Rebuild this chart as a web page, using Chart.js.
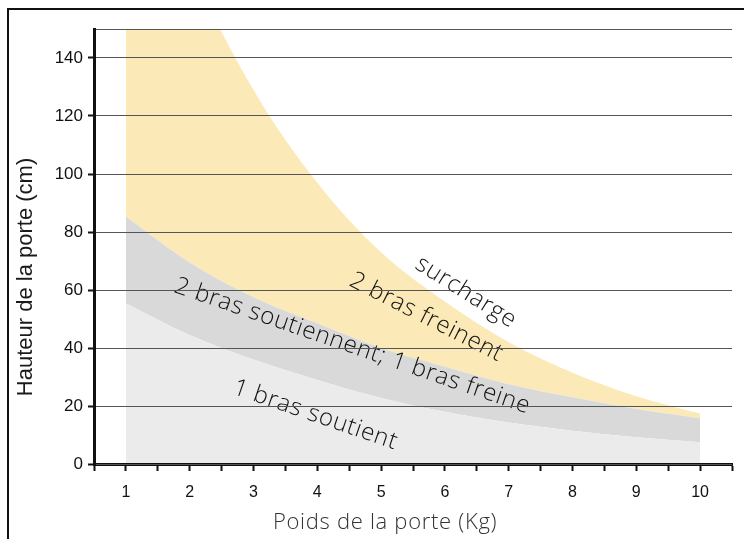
<!DOCTYPE html>
<html>
<head>
<meta charset="utf-8">
<script src="https://cdn.jsdelivr.net/npm/chart.js@4.4.1/dist/chart.umd.min.js"></script>
<style>
  html, body { margin: 0; padding: 0; background: #fff; overflow: hidden; }
  #wrap { position: relative; width: 744px; height: 539px; }
  #frame { position: absolute; left: 7px; top: 8px; width: 900px; height: 700px; border: 2px solid #111; }
  canvas { position: absolute; left: 0; top: 0; }
</style>
</head>
<body>
<div id="wrap">
  <div id="frame"></div>
  <canvas id="myChart" width="744" height="539"></canvas>
</div>
<script>
// poids de la porte (kg)
const weights = [1, 2, 3, 4, 5, 6, 7, 8, 9, 10];
// hauteur limite (cm) pour chaque zone
const soutient = [55.4, 44.5, 36, 29, 22.8, 18, 14.3, 11.5, 9.2, 7.5];
const freine = [85.3, 69.5, 57.5, 48.5, 40, 33.5, 27.5, 23, 19, 15.8];
const surcharge = [229, 172, 129, 97, 73, 56, 42, 31.5, 23.4, 17.4];

const zoneColors = ['#ebebeb', '#d9d9d9', '#fce9b8'];

const notes = [
  { text: 'surcharge', x: 6.33, y: 59.2, angle: 32 },
  { text: '2 bras freinent', x: 5.71, y: 50.6, angle: 27 },
  { text: '2 bras soutiennent; 1 bras freine', x: 4.55, y: 40.6, angle: 19 },
  { text: '1 bras soutient', x: 3.97, y: 16.9, angle: 19 }
];

const toPoints = values => weights.map((w, i) => ({ x: w, y: values[i] }));

const notesPlugin = {
  id: 'notes',
  afterDatasetsDraw(chart) {
    const { ctx, scales } = chart;
    ctx.save();
    ctx.fillStyle = '#111';
    ctx.font = '300 24px "Open Sans"';
    ctx.letterSpacing = '0.7px';
    ctx.textAlign = 'center';
    ctx.textBaseline = 'middle';
    notes.forEach(n => {
      ctx.save();
      ctx.translate(scales.x.getPixelForValue(n.x), scales.y.getPixelForValue(n.y));
      ctx.rotate(n.angle * Math.PI / 180);
      ctx.fillText(n.text, 0, 0);
      ctx.restore();
    });
    ctx.restore();
  },
  afterDraw(chart) {
    const { ctx, scales } = chart;
    ctx.save();
    // titre de l'axe x, centré sous la graduation 5
    ctx.fillStyle = '#333';
    ctx.font = '300 22px "Open Sans"';
    ctx.letterSpacing = '0.7px';
    ctx.textAlign = 'center';
    ctx.textBaseline = 'middle';
    ctx.fillText('Poids de la porte (Kg)', scales.x.getPixelForValue(5) + 4, 523);
    // titre de l'axe y
    ctx.letterSpacing = '0px';
    ctx.fillStyle = '#1a1a1a';
    ctx.font = '22px "Liberation Sans", Arial';
    ctx.translate(26, 277);
    ctx.rotate(-Math.PI / 2);
    ctx.fillText('Hauteur de la porte (cm)', 0, 0);
    ctx.restore();
  }
};

const ctx = document.getElementById('myChart');
new Chart(ctx, {
  type: 'line',
  data: {
    datasets: [
      { data: toPoints(soutient), fill: 'origin', backgroundColor: zoneColors[0] },
      { data: toPoints(freine), fill: '-1', backgroundColor: zoneColors[1] },
      { data: toPoints(surcharge), fill: '-1', backgroundColor: zoneColors[2] }
    ]
  },
  options: {
    responsive: false,
    animation: false,
    events: [],
    layout: { padding: { top: 29, right: 3, left: 0, bottom: 0 } },
    elements: {
      line: { borderWidth: 0, cubicInterpolationMode: 'monotone' },
      point: { radius: 0 }
    },
    plugins: {
      legend: { display: false },
      tooltip: { enabled: false }
    },
    scales: {
      x: {
        type: 'linear',
        min: 0.5,
        max: 10.5,
        afterFit: scale => { scale.height = 75; },
        ticks: {
          stepSize: 0.5,
          autoSkip: false,
          maxRotation: 0,
          padding: 12,
          color: '#111',
          font: { family: 'Liberation Sans, Arial', size: 16 },
          callback: v => Number.isInteger(v) ? v : ''
        },
        grid: { drawOnChartArea: false, drawTicks: true, tickLength: 7, tickColor: '#111', tickWidth: 2, z: 1 },
        border: { color: '#111', width: 3, z: 1 }
      },
      y: {
        min: 0,
        max: 150,
        afterFit: scale => { scale.width = 94; },
        ticks: {
          stepSize: 20,
          padding: 5,
          color: '#111',
          font: { family: 'Liberation Sans, Arial', size: 17 },
          callback: v => v === 150 ? '' : v
        },
        grid: {
          z: 1,
          color: '#555',
          lineWidth: 1,
          tickLength: 6,
          tickWidth: 2,
          tickColor: c => c.tick && c.tick.value === 150 ? 'rgba(0,0,0,0)' : '#111'
        },
        border: { color: '#111', width: 3, z: 1 }
      }
    }
  },
  plugins: [notesPlugin]
});
</script>
</body>
</html>
